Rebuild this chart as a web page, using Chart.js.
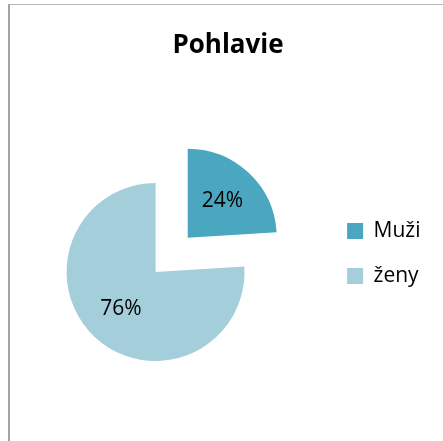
<!DOCTYPE html>
<html>
<head>
<meta charset="utf-8">
<script src="https://cdn.jsdelivr.net/npm/chart.js@4/dist/chart.umd.min.js"></script>
<style>
  html, body { margin: 0; padding: 0; width: 443px; height: 441px; overflow: hidden; background: #fff; }
  #frame {
    position: absolute; left: 8px; top: 4px; width: 460px; height: 460px;
    border-left: 2px solid #a3a3a3; border-top: 1px solid #b8b8b8;
  }
  #GrafPohlavie { position: absolute; left: -40px; top: 0; }
</style>
</head>
<body>
<div id="frame"></div>
<canvas id="GrafPohlavie" width="523" height="441"></canvas>
<script>
// === DATA ===
const kategorie = ['Muži', 'ženy'];
const hodnoty = [24, 76];
const farby = ['#4BA7BF', '#A5CEDB'];
const odsadenie = [188, 0]; // vysunutie vysecu (Chart.js deli /4)
const nadpis = 'Pohlavie';

Chart.defaults.font.family = '"Open Sans", sans-serif';
Chart.defaults.color = '#000';

// popisky v percentach priamo vo vysekoch
const percentaPlugin = {
    id: 'percenta',
    afterDatasetsDraw(chart) {
        const ctx = chart.ctx;
        const meta = chart.getDatasetMeta(0);
        const spolu = hodnoty.reduce((a, b) => a + b, 0);
        ctx.save();
        ctx.font = '21px "Open Sans", sans-serif';
        ctx.fillStyle = '#000';
        ctx.textAlign = 'center';
        ctx.textBaseline = 'middle';
        meta.data.forEach((arc, i) => {
            const p = arc.getProps(['x', 'y', 'startAngle', 'endAngle', 'outerRadius'], true);
            const uhol = (p.startAngle + p.endAngle) / 2;
            const posun = (arc.options.offset || 0) / 4;
            const r = p.outerRadius * 0.57 + posun;
            const text = Math.round(hodnoty[i] / spolu * 100) + '%';
            ctx.fillText(text, p.x + Math.cos(uhol) * r, p.y + Math.sin(uhol) * r);
        });
        ctx.restore();
    }
};

new Chart(document.getElementById('GrafPohlavie'), {
    type: 'pie',
    data: {
        labels: kategorie,
        datasets: [{
            data: hodnoty,
            backgroundColor: farby,
            borderWidth: 0,
            offset: odsadenie,
            radius: 89
        }]
    },
    options: {
        responsive: false,
        animation: false,
        events: [],
        layout: { padding: { left: 28, right: 15, top: 0, bottom: 0 } },
        plugins: {
            title: {
                display: true,
                text: nadpis,
                font: { size: 26, weight: 'bold' },
                color: '#000',
                padding: { top: 30, bottom: 41.8 }
            },
            // prazdny podnadpis vpravo ako medzera
            subtitle: {
                display: true,
                position: 'right',
                text: '',
                font: { size: 10 },
                padding: { top: 25.5, bottom: 0 }
            },
            legend: {
                position: 'right',
                align: 'center',
                title: { display: true, text: '', font: { size: 10 }, padding: { top: 54, bottom: 0 } },
                labels: {
                    boxWidth: 16,
                    boxHeight: 16,
                    padding: 24,
                    color: '#000',
                    font: { size: 21 }
                }
            },
            tooltip: { enabled: false }
        }
    },
    plugins: [percentaPlugin]
});
</script>
</body>
</html>
